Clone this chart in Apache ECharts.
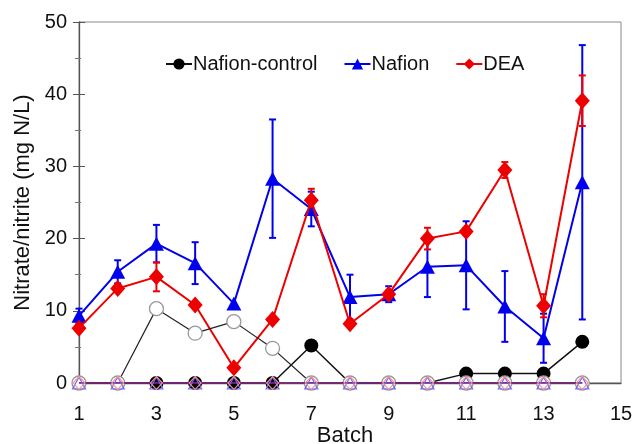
<!DOCTYPE html>
<html>
<head>
<meta charset="utf-8">
<script src="https://cdn.jsdelivr.net/npm/echarts@6/dist/echarts.min.js"></script>
<style>
  html, body { margin: 0; padding: 0; background: #fff; }
  #chart { width: 635px; height: 444px; }
</style>
</head>
<body>
<div id="chart"></div>
<script>
// batches
var batches = [1, 2, 3, 4, 5, 6, 7, 8, 9, 10, 11, 12, 13, 14];

// filled markers (legend series)
var controlVals = [0, 0, 0, 0, 0, 0, 5.2, 0, 0, 0, 1.3, 1.3, 1.3, 5.7];
var nafionVals = [9.3, 15.4, 19.3, 16.6, 11.0, 28.3, 24.1, 11.9, 12.3, 16.1, 16.3, 10.6, 6.2, 27.8];
var nafionErr = [1.0, 1.6, 2.6, 2.9, 0, 8.2, 2.4, 3.1, 1.1, 4.2, 6.1, 4.9, 3.4, 19.0];
var deaVals = [7.6, 13.1, 14.7, 10.8, 2.1, 8.8, 25.3, 8.2, 12.3, 20.0, 21.0, 29.5, 10.7, 39.1];
var deaErr = [0.4, 0.4, 2.0, 0.3, 0.3, 0.3, 1.6, 0.3, 0.5, 1.5, 0.5, 1.1, 1.6, 3.5];

// open markers (not in legend)
var controlOpenVals = [0, 0, 10.3, 6.9, 8.5, 4.8, 0, 0, 0, 0, 0, 0, 0, 0];
var nafionOpenVals = [0, 0, 0, 0, 0, 0, 0, 0, 0, 0, 0, 0, 0, 0];
var deaOpenVals = [0, 0, 0, 0, 0, 0, 0, 0, 0, 0, 0, 0, 0, 0];

var font = "'Liberation Sans', Arial, sans-serif";
var BLUE = '#0000ee';
var RED = '#ee0000';

function pairs(vals) {
    return batches.map(function (b, i) { return [b, vals[i]]; });
}
function errData(vals, errs) {
    var out = [];
    batches.forEach(function (b, i) {
        if (errs[i] > 0) out.push([b, vals[i] - errs[i], vals[i] + errs[i]]);
    });
    return out;
}
function errorSeries(data, color) {
    return {
        type: 'custom',
        data: data,
        z: 3,
        silent: true,
        renderItem: function (params, api) {
            var lo = api.coord([api.value(0), api.value(1)]);
            var hi = api.coord([api.value(0), api.value(2)]);
            var w = 3.5;
            var st = { stroke: color, lineWidth: 2 };
            return {
                type: 'group',
                children: [
                    { type: 'line', shape: { x1: lo[0], y1: lo[1], x2: hi[0], y2: hi[1] }, style: st },
                    { type: 'line', shape: { x1: lo[0] - w, y1: lo[1], x2: lo[0] + w, y2: lo[1] }, style: st },
                    { type: 'line', shape: { x1: hi[0] - w, y1: hi[1], x2: hi[0] + w, y2: hi[1] }, style: st }
                ]
            };
        }
    };
}

var chart = echarts.init(document.getElementById('chart'));
chart.setOption({
    animation: false,
    textStyle: { fontFamily: font },
    grid: {
        left: 79, right: 14, top: 22, bottom: 61,
        outerBoundsMode: 'none', containLabel: false,
        show: true, borderColor: '#888', borderWidth: 1
    },
    legend: {
        left: 160, top: 49,
        itemWidth: 26, itemHeight: 14, itemGap: 26,
        textStyle: { fontSize: 20, color: '#111', fontFamily: font, padding: [0, 0, 0, -4] },
        data: ['Nafion-control', 'Nafion', 'DEA']
    },
    xAxis: {
        type: 'value', min: 1, max: 15, interval: 2,
        name: 'Batch', nameLocation: 'middle', nameGap: 42, nameMoveOverlap: false,
        nameTextStyle: { fontSize: 22, color: '#111', padding: [0, 10, 0, 0] },
        axisLine: { lineStyle: { color: '#555', width: 1.3 } },
        axisTick: { show: false },
        axisLabel: { fontSize: 20, color: '#111', margin: 21 },
        splitLine: { show: false }
    },
    yAxis: [{
        type: 'value', min: 0, max: 50, interval: 10,
        name: 'Nitrate/nitrite (mg N/L)', nameLocation: 'middle', nameGap: 45, nameMoveOverlap: false,
        nameTextStyle: { fontSize: 22, color: '#111' },
        axisLine: { show: true, lineStyle: { color: '#555', width: 1.3 } },
        axisTick: { show: true, length: 6, lineStyle: { color: '#555' } },
        minorTick: { show: true, splitNumber: 2, length: 4, lineStyle: { color: '#777' } },
        axisLabel: { fontSize: 20, color: '#111', margin: 12 },
        splitLine: { show: false }
    }, {
        type: 'value', min: 0, max: 50, interval: 10, position: 'left',
        axisLine: { show: false },
        axisTick: { show: true, inside: true, length: 6, lineStyle: { color: '#555' } },
        minorTick: { show: true, splitNumber: 2, length: 2, lineStyle: { color: '#777' } },
        axisLabel: { show: false },
        splitLine: { show: false }
    }],
    series: [
        errorSeries(errData(nafionVals, nafionErr), BLUE),
        errorSeries(errData(deaVals, deaErr), RED),
        {
            name: 'Nafion-control', type: 'line', data: pairs(controlVals), z: 4,
            symbol: 'circle', symbolSize: 14,
            lineStyle: { color: '#111', width: 1.5 },
            itemStyle: { color: '#000' }
        },
        {
            name: 'Nafion', type: 'line', data: pairs(nafionVals), z: 4,
            symbol: 'triangle', symbolSize: [15, 14],
            lineStyle: { color: BLUE, width: 2 },
            itemStyle: { color: BLUE }
        },
        {
            name: 'DEA', type: 'line', data: pairs(deaVals), z: 5,
            symbol: 'diamond', symbolSize: [15, 17],
            lineStyle: { color: RED, width: 2 },
            itemStyle: { color: RED }
        },
        {
            name: 'control-open', type: 'line', data: pairs(controlOpenVals), z: 6,
            symbol: 'circle', symbolSize: 14,
            lineStyle: { color: '#222', width: 1.2 },
            itemStyle: { color: '#fff', borderColor: '#999', borderWidth: 1.3 }
        },
        {
            name: 'nafion-open', type: 'line', data: pairs(nafionOpenVals), z: 7,
            symbol: 'triangle', symbolSize: [13, 12],
            lineStyle: { color: '#5a3aa0', width: 1.5 },
            itemStyle: { color: 'rgba(0,0,0,0)', borderColor: '#6a6aff', borderWidth: 1.2 }
        },
        {
            name: 'dea-open', type: 'line', data: pairs(deaOpenVals), z: 7,
            symbol: 'diamond', symbolSize: [12, 13],
            lineStyle: { color: '#802070', width: 1.5 },
            itemStyle: { color: 'rgba(0,0,0,0)', borderColor: '#ff9090', borderWidth: 1.1 }
        }
    ]
});
</script>
</body>
</html>
